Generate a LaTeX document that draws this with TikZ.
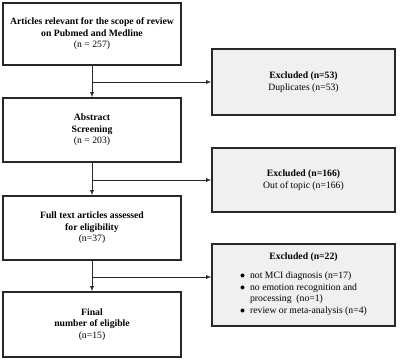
\documentclass[tikz,border=0pt]{standalone}
\usepackage{fontspec}
\setmainfont{Liberation Serif}
\usepackage{xcolor}
\definecolor{boxgray}{RGB}{240,240,240}
\definecolor{linegray}{RGB}{40,40,40}

\begin{document}
\begin{tikzpicture}[x=1pt, y=-1pt,
    >=latex,   % Pfeilspitzen
    stage/.style={draw=linegray, line width=1.4pt, fill=white, minimum width=178pt, align=center, inner sep=2pt},
    excl/.style={draw=linegray, line width=1.4pt, fill=boxgray, minimum width=183pt, align=center, inner sep=2pt},
    flow/.style={->, draw=linegray, line width=0.8pt},
    font=\fontsize{9.7}{11.5}\selectfont]
    % Bildbereich
    \useasboundingbox (0,0) rectangle (400,360);
    % linke Spalte
    \node[stage, minimum height=62pt] (art) at (92,34) {\textbf{Articles relevant for the scope of review}\\\textbf{on Pubmed and Medline}\\(n = 257)};
    \node[stage, minimum height=64pt] (abs) at (92,130) {\textbf{Abstract}\\\textbf{Screening}\\(n = 203)};
    \node[stage, minimum height=64pt] (full) at (92,228) {\textbf{Full text articles assessed}\\\textbf{for eligibility}\\(n=37)};
    \node[stage, minimum height=65pt] (fin) at (92,324.5) {\textbf{Final}\\\textbf{number of eligible}\\(n=15)};
    % rechte Spalte
    \node[excl, minimum height=66pt] (dup) at (303.5,82) {\textbf{Excluded (n=53)}\\Duplicates (n=53)};
    \node[excl, minimum height=64pt] (top) at (303.5,180) {\textbf{Excluded (n=166)}\\Out of topic (n=166)};
    \node[excl, minimum height=82pt] (rest) at (303.5,285) {\textbf{Excluded (n=22)}\\[8pt]
        \begin{tabular}{@{}l@{\hspace{5pt}}l@{}}
        $\bullet$ & not MCI diagnosis (n=17)\\
        $\bullet$ & no emotion recognition and\\
                  & processing\ \ (no=1)\\
        $\bullet$ & review or meta-analysis (n=4)
        \end{tabular}};
    % Verzweigungen
    \coordinate (j1) at (art.south |- dup.west);
    \coordinate (j2) at (abs.south |- top.west);
    \coordinate (j3) at (92,277);
    % Pfeile
    \draw[flow] (art) -- (abs);
    \draw[flow] (abs) -- (full);
    \draw[flow] (full) -- (fin);
    \draw[flow] (j1) -- (dup);
    \draw[flow] (j2) -- (top);
    \draw[flow] (j3) -- (j3 -| rest.west);
\end{tikzpicture}
\end{document}
